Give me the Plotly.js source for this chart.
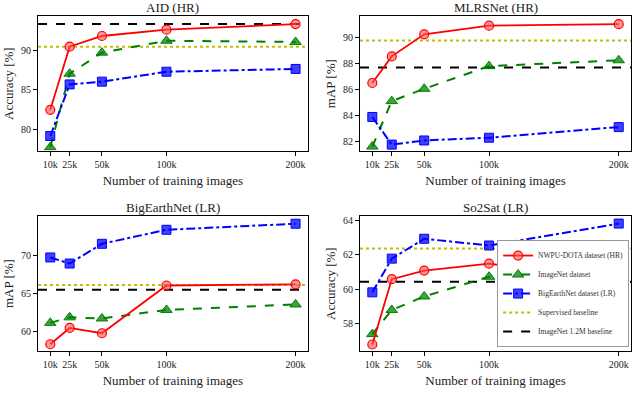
<!DOCTYPE html>
<html>
<head>
<meta charset="utf-8">
<script src="https://cdn.plot.ly/plotly-3.0.1.min.js"></script>
<style>
  html, body { margin: 0; padding: 0; background: #fff; }
  #chart { width: 640px; height: 404px; }
</style>
</head>
<body>
<div id="chart"></div>
<script>
// training set sizes (thousands)
var sizes = [10, 25, 50, 100, 200];
var sizeLabels = ['10k', '25k', '50k', '100k', '200k'];
var xSpan = [0.5, 209.5];

// AID (HR) - accuracy
var aidNwpu = [82.5, 90.45, 91.8, 92.6, 93.3];
var aidImagenet = [77.8, 87.05, 89.7, 91.2, 91.05];
var aidBigearth = [79.2, 85.7, 86.05, 87.3, 87.65];
var aidSupervised = 90.45;
var aidImagenet12 = 93.3;

// MLRSNet (HR) - mAP
var mlrsNwpu = [86.5, 88.55, 90.25, 90.92, 91.03];
var mlrsImagenet = [81.6, 85.1, 86.05, 87.8, 88.25];
var mlrsBigearth = [83.88, 81.75, 82.07, 82.28, 83.1];
var mlrsSupervised = 89.77;
var mlrsImagenet12 = 87.7;

// BigEarthNet (LR) - mAP
var benNwpu = [58.3, 60.45, 59.75, 66.05, 66.2];
var benImagenet = [61.12, 61.85, 61.7, 62.83, 63.55];
var benBigearth = [69.75, 68.95, 71.55, 73.4, 74.2];
var benSupervised = 66.1;
var benImagenet12 = 65.5;

// So2Sat (LR) - accuracy
var so2Nwpu = [56.8, 60.58, 61.08, 61.48, 60.47];
var so2Imagenet = [57.4, 58.8, 59.58, 60.72, 60.74];
var so2Bigearth = [59.82, 61.77, 62.92, 62.53, 63.8];
var so2Supervised = 62.36;
var so2Imagenet12 = 60.43;

var seriesNames = ['NWPU-DOTA dataset (HR)', 'ImageNet dataset', 'BigEarthNet dataset (LR)',
                   'Supervised baseline', 'ImageNet 1.2M baseline'];

var panels = [
  {title: 'AID (HR)', ylab: 'Accuracy [%]', nwpu: aidNwpu, imnet: aidImagenet, ben: aidBigearth,
   sup: aidSupervised, im12: aidImagenet12, yr: [77.3, 94.3], ticks: [80, 85, 90]},
  {title: 'MLRSNet (HR)', ylab: 'mAP [%]', nwpu: mlrsNwpu, imnet: mlrsImagenet, ben: mlrsBigearth,
   sup: mlrsSupervised, im12: mlrsImagenet12, yr: [81.25, 91.65], ticks: [82, 84, 86, 88, 90]},
  {title: 'BigEarthNet (LR)', ylab: 'mAP [%]', nwpu: benNwpu, imnet: benImagenet, ben: benBigearth,
   sup: benSupervised, im12: benImagenet12, yr: [57.4, 75.2], ticks: [60, 65, 70]},
  {title: 'So2Sat (LR)', ylab: 'Accuracy [%]', nwpu: so2Nwpu, imnet: so2Imagenet, ben: so2Bigearth,
   sup: so2Supervised, im12: so2Imagenet12, yr: [56.42, 64.23], ticks: [58, 60, 62, 64]}
];

var font = 'Liberation Serif';

// plot boxes in paper fractions
var xDom = [[0.0594, 0.481], [0.5625, 0.986], [0.0594, 0.481], [0.5625, 0.986]];
var yDom = [[0.626, 0.960], [0.626, 0.960], [0.131, 0.465], [0.131, 0.465]];
var titleY = [0.982, 0.982, 0.487, 0.487];

var data = [];
var layout = {
  width: 640,
  height: 404,
  margin: {l: 0, r: 0, t: 0, b: 0},
  paper_bgcolor: 'white',
  plot_bgcolor: 'white',
  font: {family: font, size: 10, color: '#222'},
  showlegend: true,
  legend: {
    x: 0.983, y: 0.141, xanchor: 'right', yanchor: 'bottom',
    bgcolor: 'white', bordercolor: '#999', borderwidth: 1,
    font: {family: font, size: 7.5, color: '#333'},
    itemwidth: 30, tracegroupgap: 0
  },
  annotations: []
};

panels.forEach(function(p, i) {
  var n = i === 0 ? '' : String(i + 1);
  var xa = 'x' + n, ya = 'y' + n;
  var first = i === 3;

  data.push({
    x: xSpan, y: [p.sup, p.sup], xaxis: xa, yaxis: ya, mode: 'lines',
    name: seriesNames[3], legendrank: 4, showlegend: first,
    line: {color: '#bfbf00', width: 2, dash: 'dot'}, hoverinfo: 'skip'
  });
  data.push({
    x: xSpan, y: [p.im12, p.im12], xaxis: xa, yaxis: ya, mode: 'lines',
    name: seriesNames[4], legendrank: 5, showlegend: first,
    line: {color: 'black', width: 2, dash: 'dash'}, hoverinfo: 'skip'
  });
  data.push({
    x: sizes, y: p.imnet, xaxis: xa, yaxis: ya, mode: 'lines+markers',
    name: seriesNames[1], legendrank: 2, showlegend: first,
    line: {color: 'green', width: 2, dash: 'dash'},
    marker: {symbol: 'triangle-up', size: 10, color: 'rgba(0,128,0,0.75)', line: {color: 'green', width: 1}}
  });
  data.push({
    x: sizes, y: p.ben, xaxis: xa, yaxis: ya, mode: 'lines+markers',
    name: seriesNames[2], legendrank: 3, showlegend: first,
    line: {color: 'blue', width: 2, dash: 'dashdot'},
    marker: {symbol: 'square', size: 9, color: 'rgba(0,0,255,0.75)', line: {color: 'blue', width: 1}}
  });
  data.push({
    x: sizes, y: p.nwpu, xaxis: xa, yaxis: ya, mode: 'lines+markers',
    name: seriesNames[0], legendrank: 1, showlegend: first,
    line: {color: 'red', width: 1.8},
    marker: {symbol: 'circle', size: 9, color: 'rgba(255,80,80,0.6)', line: {color: 'red', width: 1.2}}
  });

  var axStyle = {
    showline: true, mirror: true, linecolor: 'black', linewidth: 1,
    showgrid: false, zeroline: false, ticks: 'outside', ticklen: 4,
    tickcolor: 'black', tickfont: {family: font, size: 10, color: '#222'}
  };
  layout['xaxis' + n] = Object.assign({}, axStyle, {
    domain: xDom[i], anchor: ya, range: xSpan,
    tickmode: 'array', tickvals: sizes, ticktext: sizeLabels,
    title: {text: 'Number of training images', font: {family: font, size: 13, color: '#222'}, standoff: 6}
  });
  layout['yaxis' + n] = Object.assign({}, axStyle, {
    domain: yDom[i], anchor: xa, range: p.yr,
    tickmode: 'array', tickvals: p.ticks,
    title: {text: p.ylab, font: {family: font, size: 13, color: '#222'}, standoff: 4}
  });
  layout.annotations.push({
    xref: 'paper', yref: 'paper', x: (xDom[i][0] + xDom[i][1]) / 2, y: titleY[i],
    xanchor: 'center', yanchor: 'middle', showarrow: false,
    text: p.title, font: {family: font, size: 13, color: '#222'}
  });
});

Plotly.newPlot('chart', data, layout, {displayModeBar: false});
</script>
</body>
</html>
